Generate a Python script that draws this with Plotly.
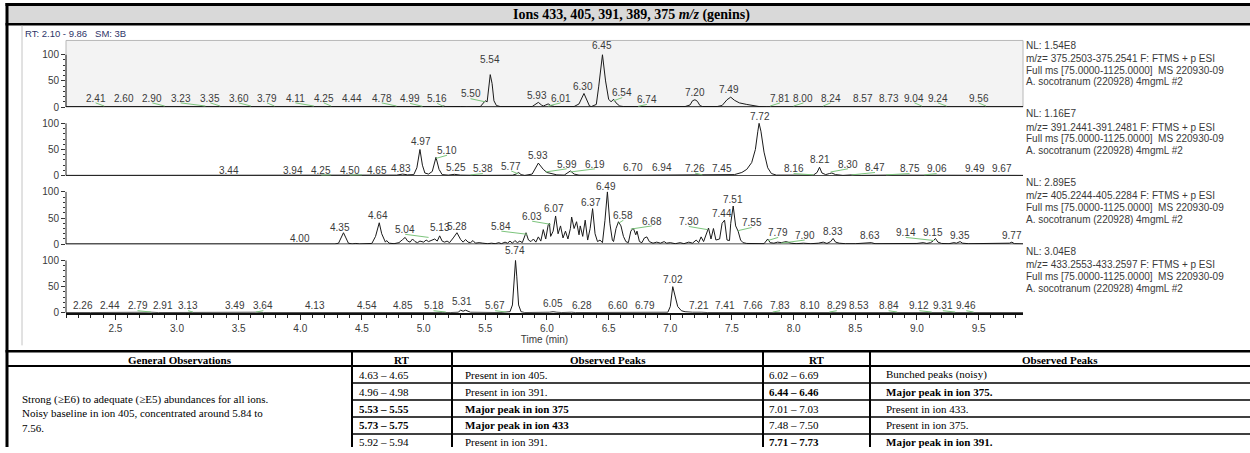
import plotly.graph_objects as go

W, H = 1250, 453

# ---------------- text content ----------------
title_text = "<b>Ions 433, 405, 391, 389, 375 <i>m/z</i> (genins)</b>"
range_text = "RT: 2.10 - 9.86\u00a0\u00a0\u00a0SM: 3B"
x_title = "Time (min)"

panel_ions = ["375", "391", "405", "433"]
nl_values = ["1.54E8", "1.16E7", "2.89E5", "3.04E8"]
mz_windows = ["375.2503-375.2541", "391.2441-391.2481", "405.2244-405.2284", "433.2553-433.2597"]
scan_line = "Full ms [75.0000-1125.0000]\u00a0\u00a0MS 220930-09"
sample_line = "A. socotranum (220928) 4mgmL #2"

x_ticks = [2.5, 3.0, 3.5, 4.0, 4.5, 5.0, 5.5, 6.0, 6.5, 7.0, 7.5, 8.0, 8.5, 9.0, 9.5]
y_ticks = [0, 50, 100]

# ---------------- chromatogram traces (time min, relative abundance %) ----------------
pts_375 = [(2.10, 0.5), (4.95, 0.5), (5.00, 1), (5.05, 0.5), (5.14, 0.8), (5.16, 2), (5.18, 0.8),
           (5.30, 1), (5.35, 0.5), (5.46, 1), (5.48, 6), (5.50, 12), (5.515, 10), (5.53, 45),
           (5.54, 62), (5.555, 45), (5.57, 12), (5.59, 3), (5.62, 1), (5.88, 1), (5.91, 5),
           (5.93, 9), (5.955, 4), (5.97, 2), (5.99, 4), (6.01, 6), (6.03, 3), (6.06, 1),
           (6.22, 1), (6.26, 6), (6.30, 26), (6.325, 12), (6.345, 2), (6.36, 1), (6.40, 5),
           (6.42, 40), (6.45, 100), (6.475, 50), (6.50, 15), (6.52, 10), (6.54, 15), (6.56, 8),
           (6.59, 2), (6.62, 1), (7.12, 1), (7.16, 4), (7.18, 12), (7.20, 14), (7.22, 11),
           (7.24, 3), (7.26, 1), (7.38, 1), (7.42, 3), (7.46, 14), (7.49, 19), (7.52, 13),
           (7.56, 8), (7.62, 5), (7.68, 3), (7.72, 1), (7.78, 0.5), (9.86, 0.5)]

pts_391 = [(2.10, 0.5), (3.44, 0.7), (4.60, 0.5), (4.65, 1.2), (4.70, 0.5), (4.78, 1), (4.83, 3),
           (4.87, 1.5), (4.92, 2), (4.945, 15), (4.97, 50), (4.99, 20), (5.01, 5), (5.04, 3),
           (5.07, 8), (5.10, 35), (5.125, 12), (5.15, 2), (5.20, 1), (5.25, 2.5), (5.30, 1),
           (5.38, 1.5), (5.45, 0.5), (5.72, 0.8), (5.75, 3), (5.77, 6), (5.79, 2), (5.82, 0.5),
           (5.88, 3), (5.93, 24), (5.97, 12), (6.00, 6), (6.04, 3), (6.08, 1.5), (6.14, 1),
           (6.17, 5), (6.19, 9), (6.22, 3), (6.26, 1), (6.70, 0.8), (6.94, 1.2), (7.00, 0.5),
           (7.26, 0.8), (7.45, 1), (7.52, 2), (7.58, 6), (7.62, 12), (7.66, 25), (7.69, 50),
           (7.71, 85), (7.72, 100), (7.735, 85), (7.76, 45), (7.79, 15), (7.82, 4), (7.86, 1),
           (8.00, 0.5), (8.16, 1), (8.19, 6), (8.21, 16), (8.23, 5), (8.26, 2), (8.29, 4),
           (8.31, 5), (8.34, 2), (8.40, 0.5), (8.47, 1.5), (8.55, 0.5), (8.75, 1), (9.06, 0.8),
           (9.49, 0.5), (9.67, 1), (9.86, 0.5)]

pts_405 = [(2.10, 0.3), (3.98, 0.3), (4.00, 1.5), (4.02, 0.3), (4.28, 0.3), (4.31, 2), (4.33, 12),
           (4.35, 22), (4.37, 12), (4.39, 2), (4.42, 0.5), (4.45, 1.5), (4.48, 0.5), (4.55, 0.5),
           (4.58, 1.5), (4.61, 15), (4.64, 41), (4.66, 20), (4.68, 8), (4.69, 4), (4.70, 7),
           (4.72, 2), (4.76, 1), (4.80, 3), (4.83, 9), (4.85, 13), (4.87, 6), (4.89, 4),
           (4.91, 10), (4.93, 5), (4.95, 3), (4.97, 6), (5.00, 4), (5.02, 8), (5.04, 5),
           (5.06, 7), (5.09, 10), (5.11, 6), (5.13, 16), (5.15, 6), (5.17, 4), (5.19, 6),
           (5.21, 3), (5.24, 12), (5.27, 22), (5.30, 9), (5.32, 4), (5.34, 9), (5.36, 4),
           (5.38, 3), (5.40, 7), (5.42, 2), (5.45, 3), (5.48, 2), (5.52, 1), (5.55, 2),
           (5.58, 1), (5.61, 3), (5.63, 1), (5.66, 4), (5.68, 2), (5.70, 6), (5.72, 2),
           (5.74, 7), (5.76, 3), (5.78, 6), (5.80, 3), (5.83, 22), (5.85, 8), (5.87, 5),
           (5.89, 10), (5.91, 4), (5.93, 14), (5.95, 6), (5.97, 28), (5.99, 10), (6.01, 37),
           (6.02, 40), (6.03, 15), (6.05, 25), (6.07, 54), (6.09, 20), (6.11, 35), (6.13, 12),
           (6.15, 25), (6.17, 10), (6.19, 30), (6.20, 52), (6.22, 30), (6.24, 43), (6.26, 18),
           (6.27, 35), (6.29, 15), (6.31, 46), (6.33, 8), (6.35, 30), (6.37, 68), (6.39, 20),
           (6.41, 5), (6.43, 8), (6.45, 3), (6.47, 45), (6.49, 100), (6.51, 40), (6.53, 8),
           (6.54, 5), (6.56, 30), (6.58, 43), (6.60, 35), (6.62, 15), (6.64, 5), (6.66, 3),
           (6.68, 25), (6.70, 31), (6.72, 18), (6.73, 25), (6.75, 5), (6.77, 3), (6.79, 12),
           (6.81, 14), (6.83, 5), (6.86, 2), (6.89, 4), (6.92, 2), (6.95, 5), (6.97, 2),
           (7.00, 3), (7.04, 1), (7.08, 3), (7.11, 1), (7.15, 4), (7.18, 2), (7.21, 8),
           (7.23, 3), (7.25, 14), (7.27, 5), (7.29, 20), (7.31, 31), (7.33, 10), (7.35, 30),
           (7.37, 8), (7.40, 10), (7.42, 40), (7.44, 46), (7.46, 8), (7.48, 7), (7.49, 40),
           (7.51, 73), (7.53, 35), (7.55, 25), (7.57, 8), (7.59, 3), (7.62, 1.5), (7.68, 1),
           (7.72, 2), (7.76, 1), (7.79, 10), (7.81, 3), (7.84, 2), (7.87, 4), (7.90, 3),
           (7.94, 5), (7.98, 2), (8.02, 1), (8.08, 2), (8.14, 1), (8.20, 2), (8.24, 4),
           (8.27, 1.5), (8.30, 5), (8.32, 11), (8.34, 4), (8.37, 2), (8.42, 1), (8.50, 1),
           (8.60, 2), (8.63, 3), (8.66, 1), (8.80, 1), (8.90, 2), (9.00, 1.5), (9.05, 3),
           (9.08, 1.5), (9.11, 3), (9.13, 6), (9.15, 11), (9.17, 4), (9.20, 1.5), (9.26, 1),
           (9.30, 3), (9.32, 2), (9.35, 5), (9.37, 2), (9.42, 1), (9.60, 1), (9.75, 2),
           (9.77, 4), (9.79, 1), (9.86, 0.5)]

pts_433 = [(2.10, 0.5), (2.26, 1), (2.30, 0.5), (2.79, 1), (2.85, 0.5), (3.64, 1), (3.70, 0.5),
           (5.15, 0.5), (5.18, 1), (5.22, 0.5), (5.28, 1), (5.30, 5), (5.32, 3), (5.34, 5),
           (5.36, 3), (5.38, 1), (5.62, 0.5), (5.67, 1.5), (5.70, 2), (5.72, 15), (5.735, 70),
           (5.745, 100), (5.755, 70), (5.77, 15), (5.79, 2), (5.82, 0.5), (6.02, 1), (6.05, 2),
           (6.08, 1), (6.12, 0.5), (6.20, 1), (6.23, 0.5), (6.98, 1), (7.00, 12), (7.02, 50),
           (7.04, 32), (7.06, 12), (7.09, 4), (7.12, 2), (7.18, 1), (7.21, 1.5), (7.25, 1),
           (7.30, 0.5), (9.86, 0.5)]

# peak labels: (text, label time, label height %)
lab_375 = [("2.41", 2.34, 17), ("2.60", 2.57, 17), ("2.90", 2.80, 17), ("3.23", 3.03, 17),
           ("3.35", 3.27, 17), ("3.60", 3.50, 17), ("3.79", 3.73, 17), ("4.11", 3.96, 17),
           ("4.25", 4.19, 17), ("4.44", 4.42, 17), ("4.78", 4.66, 17), ("4.99", 4.89, 16),
           ("5.16", 5.11, 16), ("5.50", 5.38, 25), ("5.54", 5.54, 90), ("5.93", 5.92, 22),
           ("6.01", 6.11, 17), ("6.30", 6.29, 40), ("6.45", 6.45, 118), ("6.54", 6.61, 27),
           ("6.74", 6.81, 14), ("7.20", 7.20, 27), ("7.49", 7.48, 33), ("7.72", 7.70, -17),
           ("7.81", 7.89, 17), ("8.00", 8.08, 17), ("8.24", 8.30, 17), ("8.57", 8.56, 17),
           ("8.73", 8.77, 17), ("9.04", 8.98, 17), ("9.24", 9.17, 17), ("9.56", 9.50, 17)]

lab_391 = [("3.44", 3.42, 10), ("3.94", 3.94, 10), ("4.25", 4.17, 10), ("4.50", 4.40, 10),
           ("4.65", 4.62, 10), ("4.83", 4.82, 13), ("4.97", 4.98, 65), ("5.10", 5.19, 48),
           ("5.25", 5.26, 16), ("5.38", 5.48, 13), ("5.77", 5.71, 18), ("5.93", 5.93, 38),
           ("5.99", 6.16, 22), ("6.19", 6.39, 22), ("6.70", 6.70, 15), ("6.94", 6.93, 15),
           ("7.26", 7.20, 14), ("7.45", 7.42, 14), ("7.72", 7.73, 113), ("8.16", 8.00, 13),
           ("8.21", 8.21, 30), ("8.30", 8.44, 22), ("8.47", 8.66, 15), ("8.75", 8.94, 13),
           ("9.06", 9.16, 13), ("9.49", 9.47, 13), ("9.67", 9.69, 13)]

lab_405 = [("4.00", 4.00, 11), ("4.35", 4.32, 32), ("4.64", 4.63, 55), ("5.04", 4.85, 28),
           ("5.13", 5.13, 32), ("5.28", 5.27, 34), ("5.84", 5.63, 34), ("5.74", 5.73, -13),
           ("6.03", 5.88, 53), ("6.07", 6.06, 68), ("6.37", 6.355, 80), ("6.49", 6.48, 111),
           ("6.58", 6.62, 55), ("6.68", 6.85, 44), ("7.30", 7.15, 43), ("7.44", 7.42, 58),
           ("7.51", 7.51, 86), ("7.55", 7.66, 41), ("7.79", 7.875, 22), ("7.90", 8.09, 17),
           ("8.33", 8.32, 25), ("8.63", 8.62, 16), ("9.14", 8.91, 22), ("9.15", 9.13, 23),
           ("9.35", 9.35, 17), ("9.77", 9.77, 16)]

lab_433 = [("2.26", 2.24, 13), ("2.44", 2.46, 13), ("2.79", 2.68, 13), ("2.91", 2.89, 13),
           ("3.13", 3.09, 13), ("3.49", 3.47, 13), ("3.64", 3.70, 13), ("4.13", 4.12, 13),
           ("4.54", 4.54, 13), ("4.85", 4.83, 13), ("5.18", 5.08, 13), ("5.31", 5.31, 22),
           ("5.67", 5.58, 13), ("5.74", 5.74, 119), ("6.05", 6.05, 17), ("6.28", 6.28, 14),
           ("6.60", 6.58, 14), ("6.79", 6.795, 14), ("7.02", 7.02, 63), ("7.21", 7.23, 14),
           ("7.41", 7.44, 13), ("7.66", 7.67, 13), ("7.83", 7.89, 13), ("8.10", 8.13, 13),
           ("8.29", 8.35, 13), ("8.53", 8.53, 13), ("8.84", 8.77, 13), ("9.12", 9.02, 13),
           ("9.31", 9.21, 13), ("9.46", 9.40, 13)]

traces = {"375": pts_375, "391": pts_391, "405": pts_405, "433": pts_433}
labels = {"375": lab_375, "391": lab_391, "405": lab_405, "433": lab_433}

# ---------------- table ----------------
tbl_headers = ["General Observations", "RT", "Observed Peaks", "RT", "Observed Peaks"]
general_obs = ["Strong (\u2265E6) to adequate (\u2265E5) abundances for all ions.",
               "Noisy baseline in ion 405, concentrated around 5.84 to",
               "7.56."]
rt_left = ["4.63 \u2013 4.65", "4.96 \u2013 4.98", "5.53 \u2013 5.55", "5.73 \u2013 5.75", "5.92 \u2013 5.94"]
obs_left = ["Present in ion 405.", "Present in ion 391.", "Major peak in ion 375",
            "Major peak in ion 433", "Present in ion 391."]
bold_left = [False, False, True, True, False]
rt_right = ["6.02 \u2013 6.69", "6.44 \u2013 6.46", "7.01 \u2013 7.03", "7.48 \u2013 7.50", "7.71 \u2013 7.73"]
obs_right = ["Bunched peaks (noisy)", "Major peak in ion 375.", "Present in ion 433.",
             "Present in ion 375.", "Major peak in ion 391."]
bold_right = [False, True, False, False, True]

# ---------------- layout geometry (pixels) ----------------
AX_L, AX_R = 66, 1023
BASE = [108.5, 178, 247.5, 317]
SCALE = 0.53            # px per 1 %
YTOP = 125
INFO_Y = [46, 115.5, 185, 255]
COLS = [7, 352, 452, 763, 870, W]
TBL_TOP, HDR_BOT, ROW_H = 356, 371, 17.2

SANS = "Liberation Sans, Arial, sans-serif"
SERIF = "Liberation Serif, Times New Roman, serif"
TXT = "#3a3a3a"
GREEN = "#7cc47c"


def px(x):
    return x / W


def py(y):
    return 1 - y / H


fig = go.Figure()
shapes = []
ann = []

# frame / title bar
shapes.append(dict(type="rect", xref="paper", yref="paper", x0=px(7), x1=1, y0=py(24), y1=py(5),
                   fillcolor="#d9d9d9", line=dict(width=0), layer="below"))
shapes.append(dict(type="line", xref="paper", yref="paper", x0=px(5.5), x1=1, y0=py(4.5), y1=py(4.5),
                   line=dict(color="black", width=3)))
shapes.append(dict(type="line", xref="paper", yref="paper", x0=px(5.5), x1=1, y0=py(24.5), y1=py(24.5),
                   line=dict(color="black", width=2.5)))
shapes.append(dict(type="line", xref="paper", yref="paper", x0=px(7), x1=px(7), y0=py(3), y1=0,
                   line=dict(color="black", width=3)))
shapes.append(dict(type="line", xref="paper", yref="paper", x0=px(22), x1=px(22), y0=py(26), y1=py(350),
                   line=dict(color="#c4c4c4", width=1)))
ann.append(dict(text=title_text, xref="paper", yref="paper", x=px(631), y=py(15), showarrow=False,
                xanchor="center", yanchor="middle", font=dict(family=SERIF, size=14, color="black")))
ann.append(dict(text=range_text, xref="paper", yref="paper", x=px(23), y=py(34), showarrow=False,
                xanchor="left", yanchor="middle", font=dict(family=SANS, size=9.5, color="#2e3468")))

# selected (top) panel background
shapes.append(dict(type="rect", xref="paper", yref="paper", x0=px(AX_L), x1=px(AX_R), y0=py(BASE[0]),
                   y1=py(41), fillcolor="#f3f3f3", line=dict(color="#b8b8b8", width=1), layer="below"))

for i, ion in enumerate(panel_ions):
    yname = "y" if i == 0 else f"y{i + 1}"
    lay = "yaxis" if i == 0 else f"yaxis{i + 1}"
    pts = traces[ion]
    fig.add_trace(go.Scatter(x=[p[0] for p in pts], y=[p[1] for p in pts], mode="lines",
                             line=dict(color="#1a1a1a", width=1), xaxis="x", yaxis=yname,
                             hoverinfo="skip", showlegend=False))
    b = BASE[i]
    fig.update_layout({lay: dict(
        domain=[py(b), py(b - YTOP * SCALE)], range=[0, YTOP], anchor="x",
        tickmode="array", tickvals=y_ticks, ticktext=[str(v) for v in y_ticks],
        ticks="outside", ticklen=4, tickwidth=1, tickcolor="#333",
        minor=dict(tickmode="array", tickvals=[10, 20, 30, 40, 60, 70, 80, 90], ticks="outside",
                   ticklen=2, tickwidth=1, tickcolor="#333"),
        showgrid=False, zeroline=False, showline=False, fixedrange=True,
        tickfont=dict(family=SANS, size=10, color=TXT))})
    # y axis line 0..100
    shapes.append(dict(type="line", xref="paper", yref=yname, x0=px(AX_L), x1=px(AX_L), y0=0, y1=100,
                       line=dict(color="#222", width=1)))
    if i < 3:
        shapes.append(dict(type="line", xref="paper", yref=yname, x0=px(AX_L), x1=px(AX_R), y0=0, y1=0,
                           line=dict(color="#111", width=1.5)))
    for txt, t, h in labels[ion]:
        ann.append(dict(text=txt, xref="x", yref=yname, x=t, y=h, showarrow=False, xanchor="center",
                        yanchor="middle", font=dict(family=SANS, size=10, color=TXT)))
        # green leader line for labels displaced from their peak
        peak_t = float(txt)
        if abs(peak_t - t) >= 0.04 and h > 0:
            y_lab = h - 9
            y_pk = max(h - 15, 1.5)
            shapes.append(dict(type="line", xref="x", yref=yname, x0=t, x1=peak_t, y0=y_lab, y1=y_pk,
                               line=dict(color=GREEN, width=1)))
    # instrument info block
    info_lines = [f"NL: {nl_values[i]}", f"m/z= {mz_windows[i]} F: FTMS + p ESI", scan_line, sample_line]
    offs = [0, 13.5, 25, 37]
    for ln, o in zip(info_lines, offs):
        ann.append(dict(text=ln, xref="paper", yref="paper", x=px(1024), y=py(INFO_Y[i] + o),
                        showarrow=False, xanchor="left", yanchor="middle",
                        font=dict(family=SANS, size=10, color=TXT)))

fig.update_layout(xaxis=dict(
    domain=[px(AX_L), px(AX_R)], range=[2.10, 9.86], anchor="y4",
    tickmode="array", tickvals=x_ticks, ticktext=[f"{v:.1f}" for v in x_ticks],
    ticks="outside", ticklen=5, tickwidth=1, tickcolor="#222",
    minor=dict(dtick=0.1, tick0=2.1, ticks="outside", ticklen=3, tickwidth=1, tickcolor="#222"),
    showline=True, linecolor="#111", linewidth=1.5, showgrid=False, zeroline=False, fixedrange=True,
    tickfont=dict(family=SANS, size=10, color=TXT),
    title=dict(text=x_title, font=dict(family=SANS, size=10, color=TXT), standoff=3)))

# ---------------- table drawing ----------------
shapes.append(dict(type="line", xref="paper", yref="paper", x0=px(5.5), x1=1, y0=py(TBL_TOP), y1=py(TBL_TOP),
                   line=dict(color="black", width=2.5)))
shapes.append(dict(type="line", xref="paper", yref="paper", x0=px(7), x1=1, y0=py(HDR_BOT), y1=py(HDR_BOT),
                   line=dict(color="black", width=2)))
for k in range(1, 5):
    yy = HDR_BOT + ROW_H * k
    shapes.append(dict(type="line", xref="paper", yref="paper", x0=px(COLS[1]), x1=1, y0=py(yy), y1=py(yy),
                       line=dict(color="black", width=1.5)))
for cx in COLS[1:5]:
    shapes.append(dict(type="line", xref="paper", yref="paper", x0=px(cx), x1=px(cx), y0=py(TBL_TOP), y1=0,
                       line=dict(color="black", width=2)))

for j, htxt in enumerate(tbl_headers):
    cx = (COLS[j] + COLS[j + 1]) / 2
    ann.append(dict(text=f"<b>{htxt}</b>", xref="paper", yref="paper", x=px(cx), y=py((TBL_TOP + HDR_BOT) / 2 + 1),
                    showarrow=False, xanchor="center", yanchor="middle",
                    font=dict(family=SERIF, size=11, color="black")))

ann.append(dict(text="<br>".join(general_obs), xref="paper", yref="paper", x=px(20), y=py(419),
                showarrow=False, xanchor="left", yanchor="middle", align="left",
                font=dict(family=SERIF, size=11, color="black")))


def cell(txt, bold, x, y):
    return dict(text=f"<b>{txt}</b>" if bold else txt, xref="paper", yref="paper", x=px(x), y=py(y),
                showarrow=False, xanchor="left", yanchor="middle",
                font=dict(family=SERIF, size=11, color="black"))


for r in range(5):
    yc = HDR_BOT + ROW_H * r + ROW_H / 2
    ann.append(cell(rt_left[r], bold_left[r], COLS[1] + 5, yc))
    ann.append(cell(obs_left[r], bold_left[r], COLS[2] + 11, yc))
    ann.append(cell(rt_right[r], bold_right[r], COLS[3] + 4, yc))
    ann.append(cell(obs_right[r], bold_right[r], COLS[4] + 14, yc))

fig.update_layout(width=W, height=H, margin=dict(l=0, r=0, t=0, b=0), paper_bgcolor="white",
                  plot_bgcolor="rgba(0,0,0,0)", shapes=shapes, annotations=ann, showlegend=False)

fig.write_html("out.html", config={"displayModeBar": False})
